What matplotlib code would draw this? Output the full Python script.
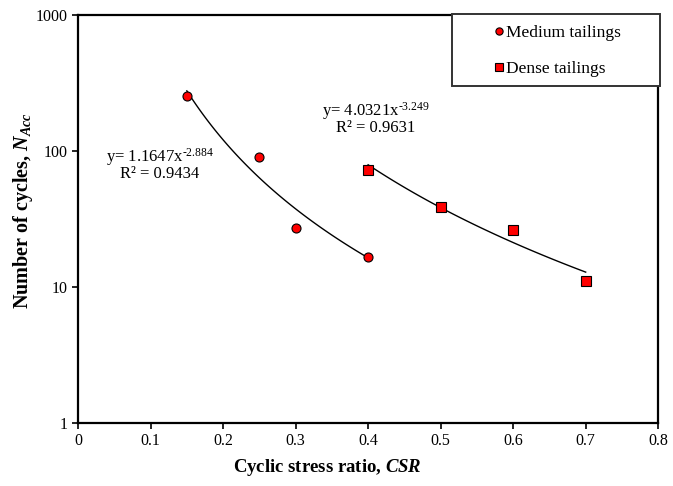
import numpy as np
import matplotlib
matplotlib.use("Agg")
import matplotlib.pyplot as plt
from matplotlib.patches import Rectangle

plt.rcParams['font.family'] = ['Liberation Serif', 'DejaVu Serif']
plt.rcParams['mathtext.fontset'] = 'custom'
plt.rcParams['mathtext.rm'] = 'Liberation Serif'
plt.rcParams['mathtext.it'] = 'Liberation Serif:italic:bold'
plt.rcParams['mathtext.bf'] = 'Liberation Serif:bold'

# data
medium_csr = [0.15, 0.25, 0.30, 0.40]
medium_n = [254, 90, 27, 16.6]
dense_csr = [0.40, 0.50, 0.60, 0.70]
dense_n = [73, 39, 26, 11]

# power-law trend lines as printed on the chart
medium_fit = (1.1647, -2.884, 0.9434)
dense_fit = (4.0321, -3.249, 0.9631)

fig = plt.figure(figsize=(6.73, 4.86), dpi=100)
ax = fig.add_axes([0.116, 0.130, 0.862, 0.839])

# trend lines
xm = np.linspace(min(medium_csr), max(medium_csr), 100)
ax.plot(xm, medium_fit[0] * xm ** medium_fit[1], color='black', lw=1.0, zorder=2)
xd = np.linspace(min(dense_csr), max(dense_csr), 100)
ax.plot(xd, dense_fit[0] * xd ** dense_fit[1], color='black', lw=1.0, zorder=2)

# points
h1, = ax.plot(medium_csr, medium_n, 'o', color='red', mec='black', mew=0.8, ms=6.5,
              ls='none', label='Medium tailings', zorder=3)
h2, = ax.plot(dense_csr, dense_n, 's', color='red', mec='black', mew=0.8, ms=6.5,
              ls='none', label='Dense tailings', zorder=3)

ax.set_yscale('log')
ax.set_xlim(0, 0.8)
ax.set_ylim(1, 1000)
ax.set_xticks(np.arange(0, 0.81, 0.1))
ax.set_xticklabels(['0', '0.1', '0.2', '0.3', '0.4', '0.5', '0.6', '0.7', '0.8'])
ax.set_yticks([1, 10, 100, 1000])
ax.set_yticklabels(['1', '10', '100', '1000'])
ax.yaxis.set_minor_locator(matplotlib.ticker.NullLocator())
ax.tick_params(axis='both', direction='out', length=4, width=1.2, labelsize=11.5)
for s in ax.spines.values():
    s.set_linewidth(1.6)

ax.set_xlabel(r'Cyclic stress ratio, $\mathit{CSR}$', fontsize=13.5, fontweight='bold', labelpad=8)
ax.xaxis.set_label_coords(0.43, -0.085)
ax.set_ylabel(r'Number of cycles, $\mathit{N}_{\mathit{Acc}}$', fontsize=14.5, fontweight='bold')
ax.yaxis.set_label_coords(-0.075, 0.52)

# equation labels
def eq_text(fit):
    return ('y= %.4fx$^{\\mathregular{\u2010%.3f}}$\nR\u00b2 = %.4f'
            % (fit[0], abs(fit[1]), fit[2]))

ax.text(0.113, 80, eq_text(medium_fit), fontsize=12, ha='center', va='center',
        linespacing=0.85)
ax.text(0.41, 174, eq_text(dense_fit), fontsize=12, ha='center', va='center',
        linespacing=0.85)

# legend box drawn in figure pixels like the original
box = Rectangle((452 / 673, 1 - 86 / 486), 208 / 673, 72 / 486, transform=fig.transFigure,
                facecolor='white', edgecolor='#333333', lw=1.4, zorder=5)
fig.add_artist(box)
leg = fig.legend(handles=[h1, h2], loc='upper left', bbox_to_anchor=(495 / 673, 1 - 25 / 486),
                 fontsize=12.5, frameon=False, handlelength=0.5, handletextpad=0.15,
                 borderpad=0, labelspacing=1.12, borderaxespad=0, markerscale=0.8)
leg.set_zorder(6)

fig.savefig('out.png', dpi=100)
